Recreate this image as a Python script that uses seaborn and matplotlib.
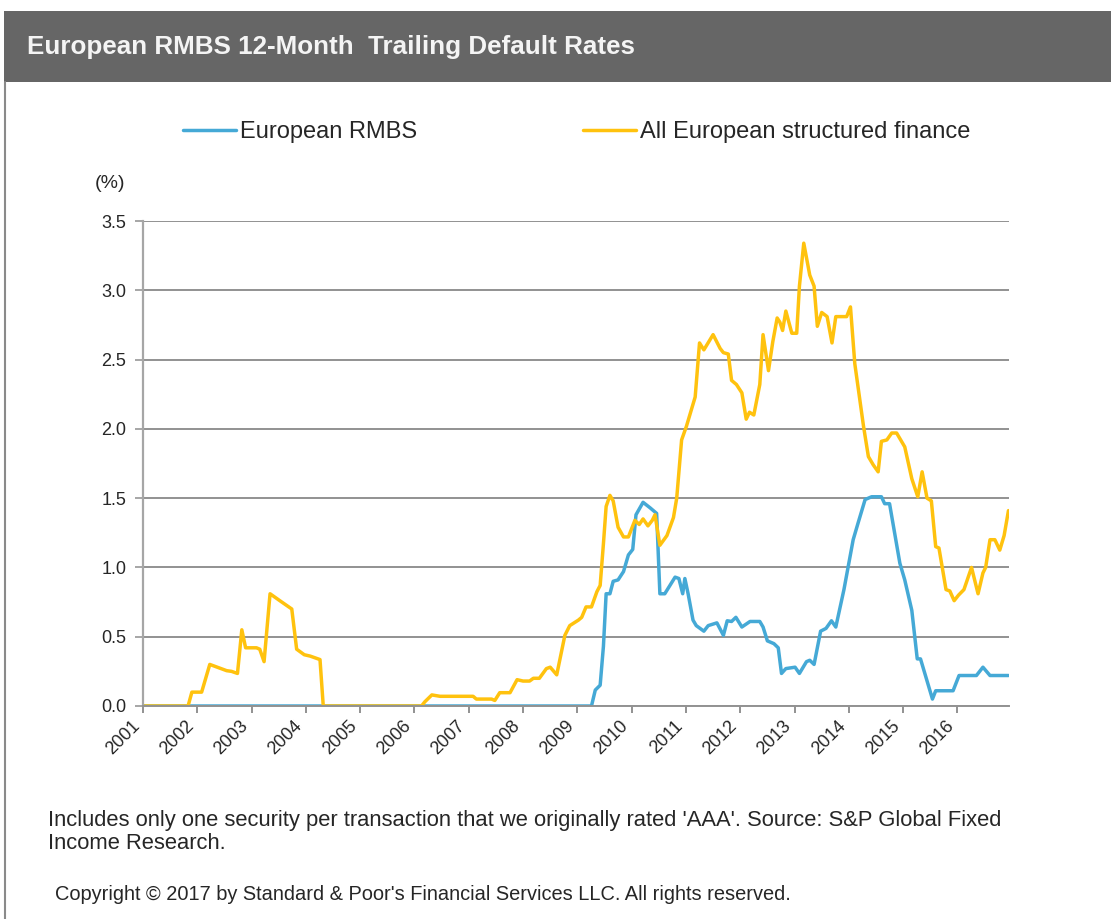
import matplotlib
matplotlib.use("Agg")
import matplotlib.pyplot as plt
import seaborn as sns
import pandas as pd
from matplotlib.patches import Rectangle
from matplotlib.lines import Line2D

# Values (x = decimal year, y = %)
rmbs_x = [2001.0, 2009.26, 2009.33, 2009.42, 2009.48, 2009.53, 2009.6, 2009.66, 2009.75, 2009.85,
          2009.94, 2010.02, 2010.08, 2010.21, 2010.34, 2010.46, 2010.52, 2010.61, 2010.8, 2010.87,
          2010.94, 2010.98, 2011.04, 2011.13, 2011.19, 2011.33, 2011.41, 2011.57, 2011.69, 2011.76,
          2011.84, 2011.92, 2012.03, 2012.18, 2012.36, 2012.42, 2012.5, 2012.62, 2012.7, 2012.76,
          2012.84, 2013.01, 2013.09, 2013.22, 2013.28, 2013.36, 2013.48, 2013.58, 2013.68, 2013.76,
          2013.91, 2014.08, 2014.17, 2014.3, 2014.42, 2014.6, 2014.66, 2014.75, 2014.94, 2015.03,
          2015.16, 2015.26, 2015.32, 2015.54, 2015.6, 2015.92, 2016.03, 2016.35, 2016.47, 2016.6,
          2016.94]
rmbs_y = [0.0, 0.0, 0.115, 0.15, 0.43, 0.81, 0.81, 0.90, 0.91, 0.97,
          1.09, 1.13, 1.38, 1.47, 1.43, 1.39, 0.81, 0.81, 0.93, 0.92,
          0.81, 0.92, 0.81, 0.62, 0.58, 0.54, 0.58, 0.60, 0.51, 0.615,
          0.61, 0.64, 0.57, 0.61, 0.61, 0.57, 0.47, 0.45, 0.42, 0.235,
          0.27, 0.28, 0.235, 0.32, 0.33, 0.30, 0.54, 0.56, 0.615, 0.57,
          0.84, 1.20, 1.32, 1.49, 1.51, 1.51, 1.46, 1.46, 1.03, 0.91,
          0.69, 0.34, 0.34, 0.05, 0.11, 0.11, 0.22, 0.22, 0.28, 0.22,
          0.22]

sf_x = [2001.0, 2001.83, 2001.9, 2002.08, 2002.23, 2002.54, 2002.63, 2002.74, 2002.82, 2002.89,
        2003.09, 2003.15, 2003.23, 2003.34, 2003.52, 2003.74, 2003.83, 2003.97, 2004.08, 2004.26,
        2004.32, 2006.13, 2006.19, 2006.32, 2006.47, 2007.08, 2007.14, 2007.42, 2007.48, 2007.57,
        2007.76, 2007.89, 2008.0, 2008.12, 2008.19, 2008.3, 2008.43, 2008.5, 2008.62, 2008.77,
        2008.86, 2009.02, 2009.08, 2009.16, 2009.26, 2009.36, 2009.42, 2009.48, 2009.53, 2009.6,
        2009.66, 2009.75, 2009.85, 2009.94, 2010.06, 2010.14, 2010.21, 2010.3, 2010.38, 2010.43,
        2010.52, 2010.65, 2010.77, 2010.83, 2010.92, 2011.01, 2011.17, 2011.25, 2011.33, 2011.5,
        2011.63, 2011.69, 2011.78, 2011.84, 2011.93, 2012.03, 2012.11, 2012.17, 2012.25, 2012.36,
        2012.42, 2012.52, 2012.6, 2012.68, 2012.73, 2012.78, 2012.84, 2012.95, 2013.04, 2013.09,
        2013.17, 2013.28, 2013.36, 2013.42, 2013.5, 2013.6, 2013.69, 2013.76, 2013.96, 2014.03,
        2014.11, 2014.27, 2014.36, 2014.45, 2014.54, 2014.6, 2014.7, 2014.79, 2014.88, 2015.03,
        2015.16, 2015.27, 2015.35, 2015.44, 2015.52, 2015.6, 2015.66, 2015.79, 2015.86, 2015.94,
        2016.02, 2016.12, 2016.26, 2016.38, 2016.47, 2016.52, 2016.6, 2016.69, 2016.78, 2016.86,
        2016.94]
sf_y = [0.0, 0.0, 0.10, 0.10, 0.30, 0.255, 0.25, 0.235, 0.55, 0.42,
        0.42, 0.41, 0.32, 0.81, 0.76, 0.70, 0.41, 0.37, 0.36, 0.335,
        0.0, 0.0, 0.03, 0.08, 0.07, 0.07, 0.05, 0.05, 0.04, 0.096,
        0.096, 0.19, 0.18, 0.18, 0.20, 0.20, 0.27, 0.28, 0.225, 0.51,
        0.58, 0.62, 0.64, 0.715, 0.715, 0.825, 0.87, 1.17, 1.44, 1.52,
        1.48, 1.29, 1.22, 1.22, 1.34, 1.31, 1.35, 1.30, 1.34, 1.38,
        1.16, 1.23, 1.36, 1.50, 1.92, 2.02, 2.23, 2.62, 2.57, 2.68,
        2.58, 2.55, 2.54, 2.35, 2.32, 2.26, 2.07, 2.12, 2.10, 2.32,
        2.68, 2.42, 2.63, 2.80, 2.77, 2.71, 2.85, 2.69, 2.69, 3.03,
        3.34, 3.11, 3.03, 2.74, 2.84, 2.81, 2.62, 2.81, 2.81, 2.88,
        2.47, 2.02, 1.80, 1.74, 1.69, 1.91, 1.92, 1.97, 1.97, 1.87,
        1.64, 1.51, 1.69, 1.50, 1.48, 1.15, 1.14, 0.84, 0.83, 0.76,
        0.80, 0.84, 1.00, 0.81, 0.96, 1.00, 1.20, 1.20, 1.125, 1.23,
        1.41]

years = list(range(2001, 2017))
y_ticks = [0.0, 0.5, 1.0, 1.5, 2.0, 2.5, 3.0, 3.5]

rmbs_df = pd.DataFrame({"year": rmbs_x, "rate": rmbs_y})
sf_df = pd.DataFrame({"year": sf_x, "rate": sf_y})

sns.set_style("white")
plt.rcParams["font.family"] = ["Liberation Sans", "DejaVu Sans"]

blue = "#45a9d6"
yellow = "#ffc20e"
grid_col = "#929292"
text_col = "#262626"

W, H = 1111, 919
fig = plt.figure(figsize=(W / 100, H / 100), dpi=100)

# title bar + left frame line
fig.patches.append(Rectangle((4 / W, 1 - 82 / H), 1, 71 / H, transform=fig.transFigure,
                             facecolor="#666666", edgecolor="none"))
fig.add_artist(Line2D([5 / W, 5 / W], [0, 1 - 82 / H], transform=fig.transFigure,
                      color="#8a8a8a", linewidth=1.5))
fig.text(27 / W, 1 - 47 / H, "European RMBS 12-Month  Trailing Default Rates",
         color="#f4f4f4", fontsize=18.7, fontweight="bold", va="center", ha="left")

ax = fig.add_axes([143 / W, 1 - 706 / H, (1009 - 143) / W, (706 - 221) / H])

sns.lineplot(data=rmbs_df, x="year", y="rate", ax=ax, color=blue, linewidth=2.5,
             label="European RMBS", sort=False)
sns.lineplot(data=sf_df, x="year", y="rate", ax=ax, color=yellow, linewidth=2.5,
             label="All European structured finance", sort=False)

ax.set_xlim(2001, 2016.95)
ax.set_ylim(0, 3.5)
ax.set_xticks(years)
ax.set_xticklabels([str(y) for y in years], rotation=45, ha="right",
                   fontsize=13, color=text_col)
ax.set_yticks(y_ticks)
ax.set_yticklabels([f"{v:.1f}" for v in y_ticks], fontsize=13, color=text_col)
ax.set_xlabel("")
ax.set_ylabel("")

ax.yaxis.grid(True, color=grid_col, linewidth=1.4)
ax.set_axisbelow(True)
for side in ["top", "right"]:
    ax.spines[side].set_visible(False)
ax.spines["left"].set_color("#a6a6a6")
ax.spines["left"].set_linewidth(1.6)
ax.spines["bottom"].set_color(grid_col)
ax.spines["bottom"].set_linewidth(1.4)
ax.tick_params(axis="y", length=6, width=1.4, color="#a6a6a6", pad=6, left=True)
ax.tick_params(axis="x", length=5, width=1.4, color=grid_col, pad=3, bottom=True)

ax.legend(loc="center left", bbox_to_anchor=(183 / W, 1 - 132 / H),
          bbox_transform=fig.transFigure, ncol=2, frameon=False, fontsize=17,
          handlelength=2.25, handletextpad=0.17, columnspacing=7.0,
          borderpad=0, borderaxespad=0, labelcolor=text_col)

fig.text(95 / W, 1 - 183 / H, "(%)", fontsize=14, color=text_col, va="center", ha="left")

fig.text(48 / W, 1 - 832 / H,
         "Includes only one security per transaction that we originally rated 'AAA'. Source: S&P Global Fixed\n"
         "Income Research.",
         fontsize=15.8, color=text_col, va="center", ha="left", linespacing=1.15)
fig.text(55 / W, 1 - 894 / H,
         "Copyright \u00a9 2017 by Standard & Poor's Financial Services LLC. All rights reserved.",
         fontsize=14.4, color=text_col, va="center", ha="left")

fig.savefig("out.png", dpi=100)
